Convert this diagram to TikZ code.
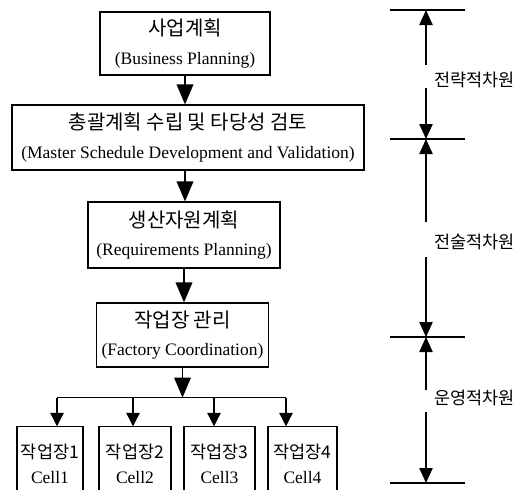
\documentclass[tikz,border=0pt]{standalone}
\usepackage{fontspec}
\setmainfont{Liberation Serif}
\newfontfamily\kr{Noto Sans CJK KR}
\usepackage{tikz}
\usetikzlibrary{arrows.meta,calc,positioning}

\tikzset{
  planbox/.style={draw, line width=0.7pt, inner sep=0pt, align=center,
    font=\fontsize{10.5}{17}\selectfont},
  cellbox/.style={draw, line width=0.7pt, inner sep=0pt, align=center,
    minimum width=#1, minimum height=44pt, font=\fontsize{10.5}{15}\selectfont},
  flow/.style={line width=0.8pt, -{Triangle[width=10pt,length=12pt]}},
  drop/.style={line width=0.8pt, -{Triangle[width=8pt,length=8pt]}},
  dimline/.style={line width=0.7pt, -{Triangle[width=8pt,length=9pt]}},
  dimlabel/.style={anchor=west, inner sep=0pt, font=\kr\fontsize{10.5}{12}\selectfont}
}
\newcommand{\krline}[1]{{\kr\fontsize{12}{17}\selectfont #1}}

\begin{document}
\begin{tikzpicture}[x=0.6pt, y=-0.6pt]
	\clip (0,0) rectangle (529,489);
	% planning levels
	\node[planbox, minimum width=102pt, minimum height=37.8pt] (b1) at (185,43.5)
		{\krline{사업계획}\\(Business Planning)};
	\node[planbox, minimum width=211.2pt, minimum height=39pt] (b2) at (188,137.5)
		{\krline{총괄계획 수립 및 타당성 검토}\\(Master Schedule Development and Validation)};
	\node[planbox, minimum width=115.2pt, minimum height=39.6pt] (b3) at (184,235)
		{\krline{생산자원계획}\\(Requirements Planning)};
	\node[planbox, minimum width=103.2pt, minimum height=38.4pt] (b4) at (182.5,335)
		{\krline{작업장 관리}\\(Factory Coordination)};
	\draw[flow] (b1.south) -- (b1.south |- b2.north);
	\draw[flow] (b2.south -| b1.south) -- (b1.south |- b3.north);
	\draw[flow] (b3.south) -- (b3.south |- b4.north);
	% cells
	\node[cellbox=39.6pt] (c1) at (50,463.5) {{\kr 작업장1}\\Cell1};
	\node[cellbox=43.2pt] (c2) at (135,463.5) {{\kr 작업장2}\\Cell2};
	\node[cellbox=42.6pt] (c3) at (219.5,463.5) {{\kr 작업장3}\\Cell3};
	\node[cellbox=41.4pt] (c4) at (302.5,463.5) {{\kr 작업장4}\\Cell4};
	\coordinate (bus) at ($(b4.south)+(0,30)$);
	\coordinate (k1) at (57,0 |- bus);
	\coordinate (k2) at (133,0 |- bus);
	\coordinate (k3) at (214,0 |- bus);
	\coordinate (k4) at (286,0 |- bus);
	\draw[flow] (b4.south) -- (bus);
	\draw[line width=0.8pt] (k1) -- (k4);
	\foreach \i in {1,...,4}
		\draw[drop] (k\i) -- (k\i |- c\i.north);
	% dimension axis
	\coordinate (t0) at (426,10);
	\coordinate (t1) at (426,139);
	\coordinate (t2) at (426,337);
	\coordinate (t3) at (426,483);
	\foreach \t in {t0,t1,t2,t3}
		\draw[line width=0.7pt] ($(\t)+(-36,0)$) -- ($(\t)+(39,0)$);
	\node[dimlabel] (d1) at (434,80) {전략적차원};
	\node[dimlabel] (d2) at (434,242) {전술적차원};
	\node[dimlabel] (d3) at (434,398) {운영적차원};
	\draw[dimline] ($(t0)+(0,55)$) -- (t0);
	\draw[dimline] ($(t1)+(0,-51)$) -- (t1);
	\draw[dimline] ($(t1)+(0,83)$) -- (t1);
	\draw[dimline] ($(t2)+(0,-80)$) -- (t2);
	\draw[dimline] ($(t2)+(0,53)$) -- (t2);
	\draw[dimline] ($(t3)+(0,-71)$) -- (t3);
\end{tikzpicture}
\end{document}
